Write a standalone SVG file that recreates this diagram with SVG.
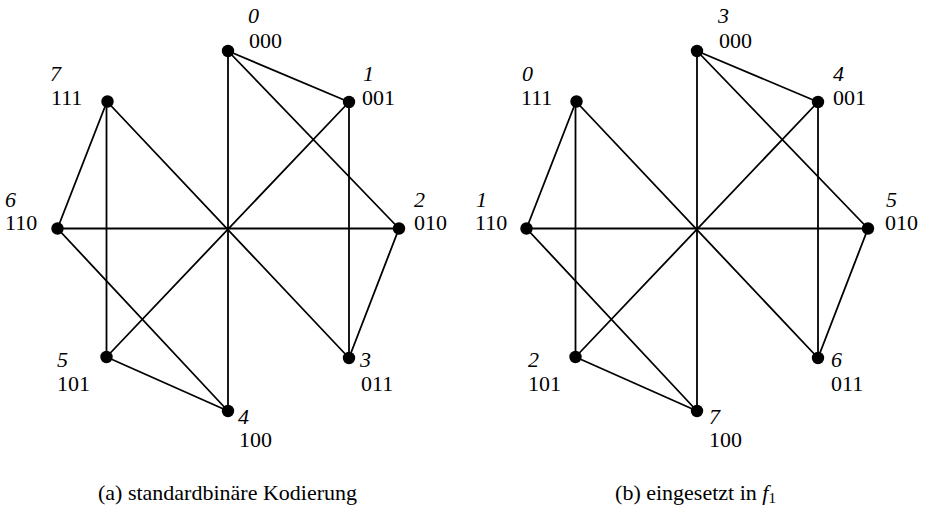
<svg xmlns="http://www.w3.org/2000/svg" width="928" height="507" viewBox="0 0 928 507">
<style>
  .e { stroke: #000; stroke-width: 1.8; fill: none; stroke-linecap: round; }
  .d { fill: #000; }
  .i { font-style: italic; }
</style>
<rect width="928" height="507" fill="#fff"/>
<g id="connectors">
  <g id="edges-a">
    <line class="e" x1="228" y1="51" x2="349" y2="102"/>
    <line class="e" x1="228" y1="51" x2="399" y2="228.5"/>
    <line class="e" x1="228" y1="51" x2="228" y2="411"/>
    <line class="e" x1="349" y1="102" x2="349" y2="358"/>
    <line class="e" x1="349" y1="102" x2="106.5" y2="357"/>
    <line class="e" x1="399" y1="228.5" x2="349" y2="358"/>
    <line class="e" x1="399" y1="228.5" x2="57.5" y2="228.5"/>
    <line class="e" x1="349" y1="358" x2="107" y2="101.5"/>
    <line class="e" x1="228" y1="411" x2="106.5" y2="357"/>
    <line class="e" x1="228" y1="411" x2="57.5" y2="228.5"/>
    <line class="e" x1="106.5" y1="357" x2="106.5" y2="101.5"/>
    <line class="e" x1="57.5" y1="228.5" x2="107" y2="101.5"/>
  </g>
  <g id="edges-b" transform="translate(469,0)">
    <line class="e" x1="228" y1="51" x2="349" y2="102"/>
    <line class="e" x1="228" y1="51" x2="399" y2="228.5"/>
    <line class="e" x1="228" y1="51" x2="228" y2="411"/>
    <line class="e" x1="349" y1="102" x2="349" y2="358"/>
    <line class="e" x1="349" y1="102" x2="106.5" y2="357"/>
    <line class="e" x1="399" y1="228.5" x2="349" y2="358"/>
    <line class="e" x1="399" y1="228.5" x2="57.5" y2="228.5"/>
    <line class="e" x1="349" y1="358" x2="107" y2="101.5"/>
    <line class="e" x1="228" y1="411" x2="106.5" y2="357"/>
    <line class="e" x1="228" y1="411" x2="57.5" y2="228.5"/>
    <line class="e" x1="106.5" y1="357" x2="106.5" y2="101.5"/>
    <line class="e" x1="57.5" y1="228.5" x2="107" y2="101.5"/>
  </g>
</g>
<g font-family="Liberation Serif" font-size="22" fill="#000">
<g id="graph-a">
  <g id="a-000"><circle class="d" cx="228" cy="51" r="6.2"/><text class="i" x="248" y="23">0</text><text x="249" y="48">000</text></g>
  <g id="a-001"><circle class="d" cx="349" cy="102" r="6.2"/><text class="i" x="363" y="81">1</text><text x="362" y="105">001</text></g>
  <g id="a-010"><circle class="d" cx="399" cy="228.5" r="6.2"/><text class="i" x="414" y="207">2</text><text x="414" y="230">010</text></g>
  <g id="a-011"><circle class="d" cx="349" cy="358" r="6.2"/><text class="i" x="360" y="367">3</text><text x="361" y="391">011</text></g>
  <g id="a-100"><circle class="d" cx="228" cy="411" r="6.2"/><text class="i" x="238" y="424">4</text><text x="239" y="447">100</text></g>
  <g id="a-101"><circle class="d" cx="106.5" cy="357" r="6.2"/><text class="i" x="57" y="367">5</text><text x="57" y="391">101</text></g>
  <g id="a-110"><circle class="d" cx="57.5" cy="228.5" r="6.2"/><text class="i" x="5" y="207">6</text><text x="5" y="230">110</text></g>
  <g id="a-111"><circle class="d" cx="107.5" cy="101.5" r="6.2"/><text class="i" x="50" y="81">7</text><text x="51" y="105">111</text></g>
  <text id="caption-a" x="227.5" y="500" text-anchor="middle">(a) standardbinäre Kodierung</text>
</g>
<g id="graph-b">
  <g id="b-000"><circle class="d" cx="697" cy="51" r="6.2"/><text class="i" x="718" y="23">3</text><text x="719" y="48">000</text></g>
  <g id="b-001"><circle class="d" cx="818" cy="102" r="6.2"/><text class="i" x="833" y="81">4</text><text x="833" y="105">001</text></g>
  <g id="b-010"><circle class="d" cx="868" cy="228.5" r="6.2"/><text class="i" x="886" y="207">5</text><text x="885" y="230">010</text></g>
  <g id="b-011"><circle class="d" cx="818" cy="358" r="6.2"/><text class="i" x="831" y="367">6</text><text x="831" y="391">011</text></g>
  <g id="b-100"><circle class="d" cx="697" cy="411" r="6.2"/><text class="i" x="709" y="424">7</text><text x="709" y="447">100</text></g>
  <g id="b-101"><circle class="d" cx="575.5" cy="357" r="6.2"/><text class="i" x="528" y="367">2</text><text x="528" y="391">101</text></g>
  <g id="b-110"><circle class="d" cx="526.5" cy="228.5" r="6.2"/><text class="i" x="476" y="207">1</text><text x="475" y="230">110</text></g>
  <g id="b-111"><circle class="d" cx="576.5" cy="101.5" r="6.2"/><text class="i" x="522" y="81">0</text><text x="521" y="105">111</text></g>
  <text id="caption-b" x="695.5" y="500" text-anchor="middle">(b) eingesetzt in <tspan class="i">f</tspan><tspan font-size="15" dy="3">1</tspan></text>
</g>
</g>
</svg>
